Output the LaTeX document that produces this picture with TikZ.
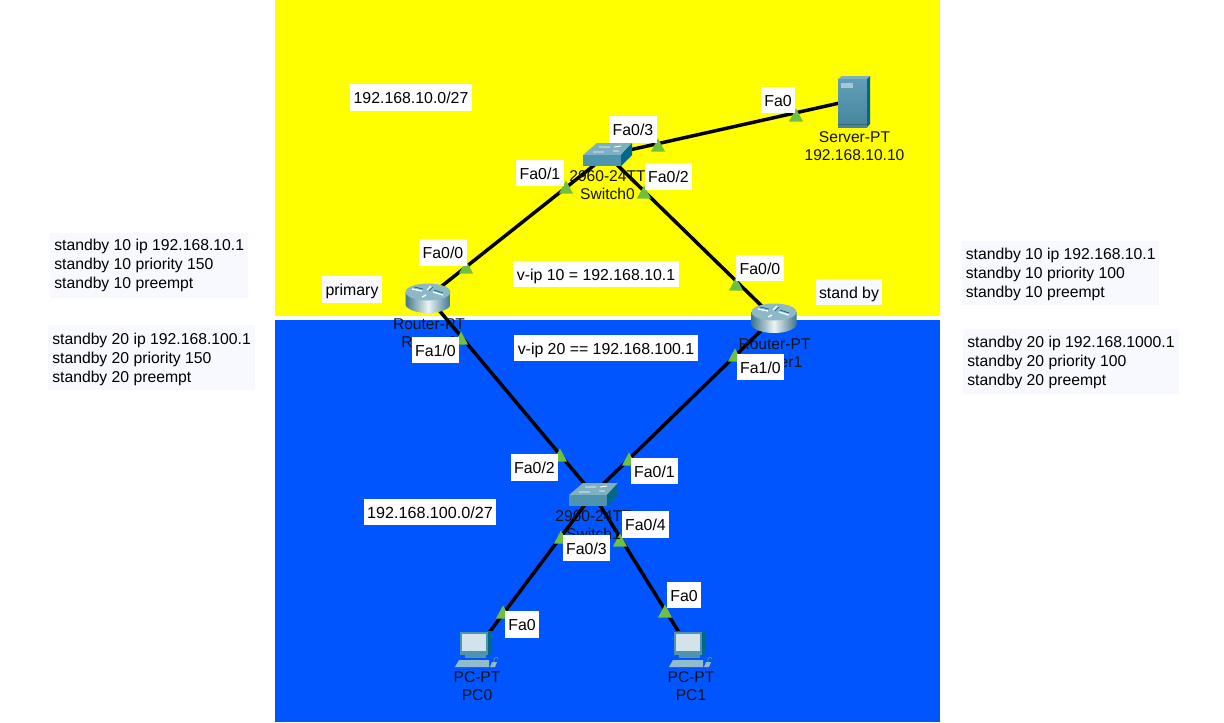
\documentclass[tikz,border=0pt]{standalone}
\usepackage{fontspec}
\setmainfont{Liberation Sans}
\definecolor{ybg}{HTML}{FFFF00}
\definecolor{bbg}{HTML}{0055FF}
\definecolor{tri}{HTML}{70BF41}
\definecolor{lav}{HTML}{F8F9FF}
\definecolor{devtop}{HTML}{7FB0C2}
\definecolor{devfront}{HTML}{4F94AE}
\definecolor{devside}{HTML}{00688A}
\tikzset{
  link/.style={line width=2.6pt,black},
  portbox/.style={fill=white,text=black,font=\fontsize{11.9}{14}\selectfont,inner xsep=2.5pt,inner ysep=0pt,minimum height=20.2pt,text height=10.1pt,text depth=0.4pt},
  notebox/.style={portbox,fill=lav},
  cfgtext/.style={text=black,font=\fontsize{11.8}{14.25}\selectfont,align=left,inner sep=0pt,anchor=north west},
  devlabel/.style={text=black!92,font=\fontsize{11.7}{13.5}\selectfont,align=center,inner sep=0pt},
  porttri/.pic={\fill[tri] (-7,6.5) -- (0,-6.5) -- (7,6.5) -- cycle;},
  switchicon/.pic={
    \fill[devtop] (-24,0) -- (-10,-12) -- (25,-12) -- (14,0) -- cycle;
    \fill[devfront] (-24,0) rectangle (14,11);
    \fill[devside] (14,0) -- (25,-12) -- (25,0) -- (14,11) -- cycle;
    \draw[white,line width=.7pt] (-8,-8) -- (3,-8) (7,-8) -- (14,-9) (-14,-3) -- (-3,-3) (6,-4) -- (12,-4);
  },
  routericon/.pic={
    \path[left color=devfront!80!black,right color=devfront!80!black,middle color=white!85!devtop]
      (-22.5,0) -- (-22.5,12) arc[start angle=180,end angle=360,x radius=22.5,y radius=-9] -- (22.5,0) -- cycle;
    \fill[devtop!90!white] (0,0) ellipse[x radius=22.5,y radius=8.5];
    \draw[white,line width=1pt] (-16,-3) -- (-6,-1) (3,-6) -- (-1,-2) (5,0) -- (15,3) (-6,5) -- (-2,3);
    \draw[devside,line width=.5pt] (-14,-5) -- (-5,-3) (5,-5) -- (1,-1) (6,-2) -- (15,1);
  },
  servericon/.pic={
    \fill[devtop] (-15,-21) -- (-11,-24) -- (17,-24) -- (14,-21) -- cycle;
    \shade[top color=devfront!90!white,bottom color=devfront!90!black] (-15,-21) rectangle (14,27);
    \fill[devside] (14,-21) -- (17,-24) -- (17,24) -- (14,27) -- cycle;
    \fill[devtop!70!white] (-12,-17) rectangle (0,-12);
    \draw[devfront!70!black,line width=.5pt] (-15,24) -- (14,24);
  },
  pcicon/.pic={
    \fill[devside] (-16,-18) -- (-13,-19) -- (16,-19) -- (16,3) -- (12,5) -- cycle;
    \fill[devfront] (-16,-18) rectangle (12,5);
    \fill[devtop!35!white] (-14,-16) rectangle (10,1);
    \fill[devfront] (-11,5) rectangle (10,8);
    \fill[devtop!85!white] (-17,10) -- (13,10) -- (13,17) -- (-21,17) -- cycle;
    \fill[devtop!85!white] (16,12) -- (21,12) -- (19,17) -- (14,17) -- cycle;
    \draw[devfront,line width=.6pt] (18,12) .. controls (17,7) and (21,6) .. (22,9);
  }
}
\begin{document}
\begin{tikzpicture}[x=.75pt,y=-.75pt]
\useasboundingbox (0,0) rectangle (1224,722);
\fill[white] (0,0) rectangle (1224,722);
\fill[ybg] (275,0) rectangle (940,316);
\fill[bbg] (275,320) rectangle (940,722);

\coordinate (server) at (853,100);
\coordinate (sw0) at (607,155);
\coordinate (r0) at (428,297);
\coordinate (r1) at (774,318);
\coordinate (sw1) at (593,494);
\coordinate (pc0) at (476,650);
\coordinate (pc1) at (690,650);

\draw[link] (sw0) -- (server);
\draw[link] (sw0) -- (r0);
\draw[link] (sw0) -- (r1);
\draw[link] (r0) -- (sw1);
\draw[link] (r1) -- (sw1);
\draw[link] (sw1) -- (pc0);
\draw[link] (sw1) -- (pc1);

\pic at (796,115) {porttri};
\pic at (658,145) {porttri};
\pic at (566,187) {porttri};
\pic at (644,192) {porttri};
\pic at (466,267) {porttri};
\pic at (736,284) {porttri};
\pic at (461,338) {porttri};
\pic at (735,355) {porttri};
\pic at (560,455) {porttri};
\pic at (629,459) {porttri};
\pic at (561,537) {porttri};
\pic at (620,540) {porttri};
\pic at (503,612) {porttri};
\pic at (665,611) {porttri};

\node[devlabel] (lserver) at (854.5,146) {Server-PT\\192.168.10.10};
\node[devlabel] (lsw0) at (607.5,185) {2960-24TT\\Switch0};
\node[devlabel] (lr0) at (429,333) {Router-PT\\Router0};
\node[devlabel] (lr1) at (774.5,353) {Router-PT\\Router1};
\node[devlabel] (lsw1) at (593.5,525) {2960-24TT\\Switch1};
\node[devlabel] (lpc0) at (477,686) {PC-PT\\PC0};
\node[devlabel] (lpc1) at (691,686) {PC-PT\\PC1};

\pic at (853,100) {servericon};
\pic at (607,155) {switchicon};
\pic at (593,495) {switchicon};
\pic at (428,292) {routericon};
\pic at (774,312) {routericon};
\pic at (476,650) {pcicon};
\pic at (690,650) {pcicon};

\node[portbox] (p1) at (778,100) {Fa0};
\node[portbox] (p2) at (633,129.5) {Fa0/3};
\node[portbox] (p3) at (540,173) {Fa0/1};
\node[portbox] (p4) at (668.5,176.5) {Fa0/2};
\node[portbox] (p5) at (443,252.5) {Fa0/0};
\node[portbox] (p6) at (760,268) {Fa0/0};
\node[portbox] (p7) at (435.5,350) {Fa1/0};
\node[portbox] (p8) at (760.5,367) {Fa1/0};
\node[portbox] (p9) at (534.5,467.5) {Fa0/2};
\node[portbox] (p10) at (654.5,471) {Fa0/1};
\node[portbox] (p11) at (645.5,524.5) {Fa0/4};
\node[portbox] (p12) at (586.5,548) {Fa0/3};
\node[portbox] (p13) at (522,624.5) {Fa0};
\node[portbox] (p14) at (684,595) {Fa0};
\node[portbox] (n1) at (411,97.5) {192.168.10.0/27};
\node[portbox,font=\fontsize{12.1}{14}\selectfont] (n2) at (430,512) {192.168.100.0/27};
\node[portbox] (n3) at (596,274) {v-ip 10 = 192.168.10.1};
\node[portbox] (n4) at (606,348) {v-ip 20 == 192.168.100.1};
\node[notebox] (n5) at (352,289.5) {primary};
\node[notebox] (n6) at (849,292) {stand by};

\fill[lav] (50,233) rectangle (248,298);
\fill[lav] (48,325) rectangle (255,390);
\fill[lav] (962,241) rectangle (1159,305);
\fill[lav] (963,329) rectangle (1179,394);
\node[cfgtext] (c1) at (54,239) {standby 10 ip 192.168.10.1\\standby 10 priority 150\\standby 10 preempt};
\node[cfgtext] (c2) at (52,332.5) {standby 20 ip 192.168.100.1\\standby 20 priority 150\\standby 20 preempt};
\node[cfgtext] (c3) at (965.5,247.5) {standby 10 ip 192.168.10.1\\standby 10 priority 100\\standby 10 preempt};
\node[cfgtext] (c4) at (967,335.5) {standby 20 ip 192.168.1000.1\\standby 20 priority 100\\standby 20 preempt};
\end{tikzpicture}
\end{document}
